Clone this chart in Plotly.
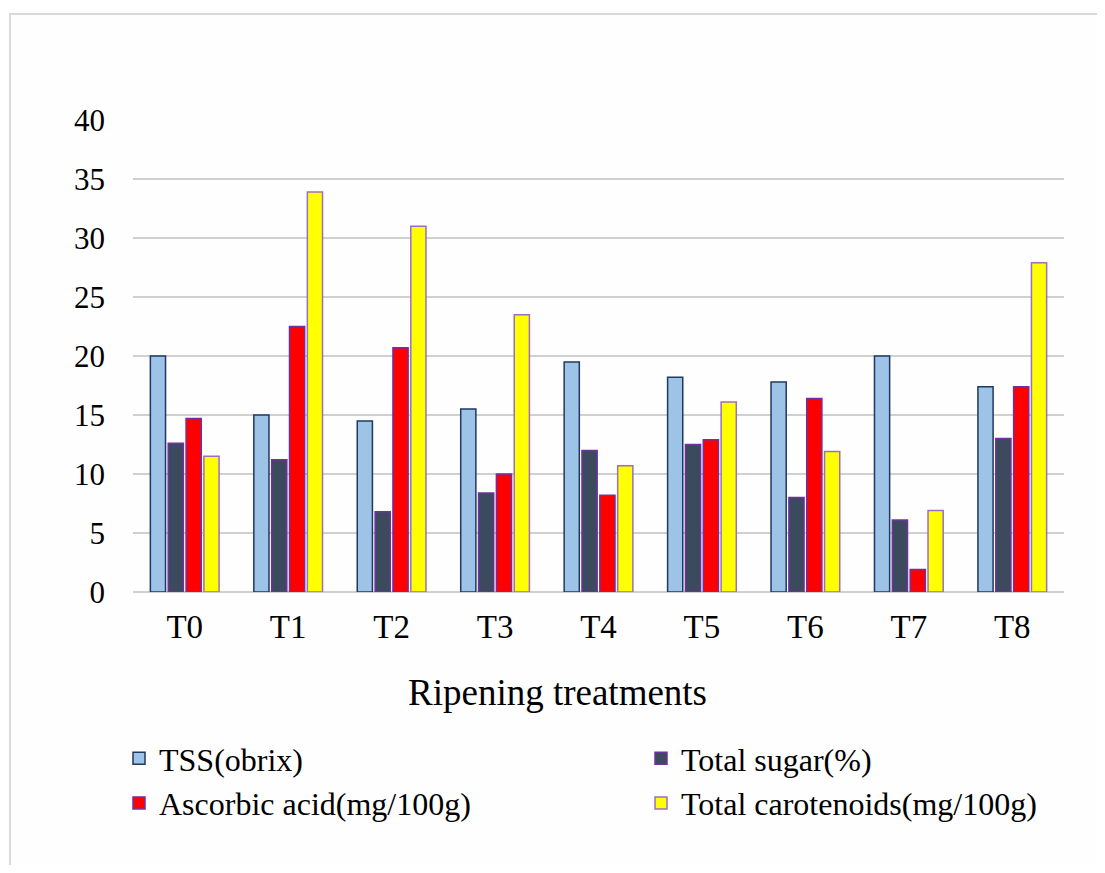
import plotly.graph_objects as go

categories = ["T0", "T1", "T2", "T3", "T4", "T5", "T6", "T7", "T8"]
tss = [20.0, 15.0, 14.5, 15.5, 19.5, 18.2, 17.8, 20.0, 17.4]
total_sugar = [12.6, 11.2, 6.8, 8.4, 12.0, 12.5, 8.0, 6.1, 13.0]
ascorbic = [14.7, 22.5, 20.7, 10.0, 8.2, 12.9, 16.4, 1.9, 17.4]
carotenoids = [11.5, 33.9, 31.0, 23.5, 10.7, 16.1, 11.9, 6.9, 27.9]

series_names = ["TSS(obrix)", "Total sugar(%)", "Ascorbic acid(mg/100g)", "Total carotenoids(mg/100g)"]
fills = ["#9DC3E6", "#3C4A5E", "#FF0000", "#FFFF00"]
outlines = ["#203864", "#7030A0", "#7030A0", "#9A6FC0"]
legend_ids = ["legend", "legend2", "legend", "legend2"]

FONT = "Liberation Serif"

# page offset (browser body margin) of 8px; keep page free of scrollbars
OFF = 8
W, H = 1105 - 2 * OFF, 873 - 2 * OFF
L = 133 - OFF
R = W - (1064 - OFF)
T = 120 - OFF
B = H - (592 - OFF)
pw, ph = W - L - R, H - T - B


def px(x):
    return (x - OFF - L) / pw


def py(y):
    return (H - B - (y - OFF)) / ph


fig = go.Figure()
for i, (name, vals, fc, lc) in enumerate(zip(series_names, [tss, total_sugar, ascorbic, carotenoids], fills, outlines)):
    fig.add_trace(go.Bar(
        x=categories, y=vals, name=name,
        marker=dict(color=fc, line=dict(color=lc, width=1.5)),
        legend=legend_ids[i], legendgroup=f"g{i}",
    ))

fig.add_shape(type="path", xref="paper", yref="paper",
              path=f"M {px(10)} {py(900)} L {px(10)} {py(14)} L {px(1120)} {py(14)}",
              line=dict(color="#D9D9D9", width=2))

fig.add_annotation(text="Ripening treatments", xref="paper", yref="paper",
                   x=px(557), y=py(692), xanchor="center", yanchor="middle",
                   showarrow=False, font=dict(family=FONT, size=37, color="#000000"))

leg_common = dict(orientation="v", xanchor="left", yanchor="top",
                  font=dict(family=FONT, size=32, color="#000000"),
                  itemwidth=30, tracegroupgap=0, bgcolor="rgba(0,0,0,0)")

fig.update_layout(
    width=W, height=H,
    margin=dict(l=L, r=R, t=T, b=B, autoexpand=False),
    paper_bgcolor="#FEFEFE", plot_bgcolor="#FEFEFE",
    barmode="group", bargap=0.31, bargroupgap=0.15,
    font=dict(family=FONT, size=30, color="#000000"),
    showlegend=True,
    legend=dict(x=px(119), y=py(731), **leg_common),
    legend2=dict(x=px(641), y=py(731), **leg_common),
    xaxis=dict(showline=False, ticks="", tickfont=dict(size=33), ticklabelstandoff=12),
    yaxis=dict(range=[0, 40], tickvals=[0, 5, 10, 15, 20, 25, 30, 35, 40],
               showgrid=True, gridcolor="#D0D0D0", gridwidth=1.5,
               zeroline=True, zerolinecolor="#D0D0D0", zerolinewidth=1.5,
               showline=False, ticks="", ticklabelstandoff=27,
               tickfont=dict(size=31)),
)

fig.write_html("out.html")
